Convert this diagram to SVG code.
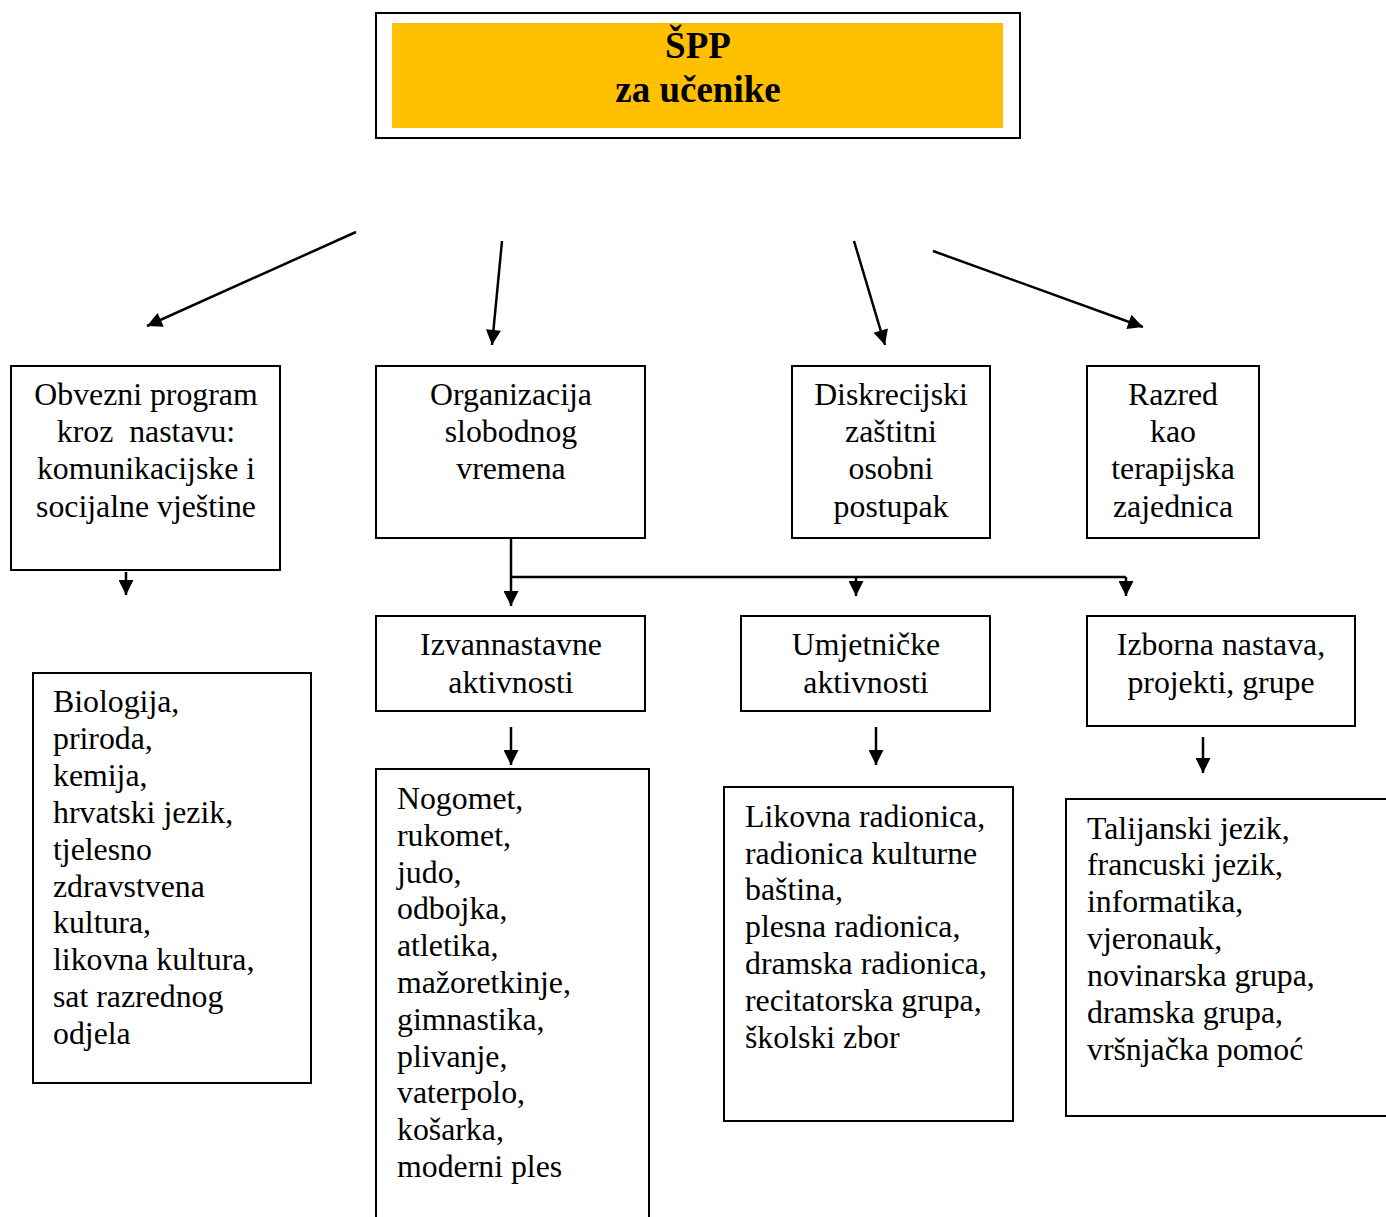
<svg xmlns="http://www.w3.org/2000/svg" width="1386" height="1217" viewBox="0 0 1386 1217">
<style>
.box{fill:#fff;stroke:#000;stroke-width:2}
text{font-family:"Liberation Serif","Times New Roman",serif;font-size:31.8px;fill:#000}
.c{text-anchor:middle}
.t{font-weight:bold;font-size:37px}
.ln{stroke:#000;stroke-width:2.5;fill:none}
</style>
<defs>
<marker id="ah2" viewBox="0 0 10 10" refX="10" refY="5" markerWidth="18" markerHeight="15" markerUnits="userSpaceOnUse" orient="auto">
<path d="M0,0 L10,5 L0,10 z" fill="#000"/>
</marker>
</defs>
<rect width="1386" height="1217" fill="#fff"/>
<g id="top">
<rect class="box" x="376" y="13" width="644" height="125"/>
<rect x="392" y="23" width="611" height="105" fill="#FFC000"/>
<text class="c t" x="698" y="58">ŠPP</text>
<text class="c t" x="698" y="102">za učenike</text>
</g>
<g id="connectors">
<line class="ln" x1="356" y1="232" x2="147" y2="326" marker-end="url(#ah2)"/>
<line class="ln" x1="502" y1="241" x2="492" y2="345" marker-end="url(#ah2)"/>
<line class="ln" x1="854" y1="241" x2="885" y2="345" marker-end="url(#ah2)"/>
<line class="ln" x1="933" y1="251" x2="1143" y2="327" marker-end="url(#ah2)"/>
<line class="ln" x1="126" y1="572" x2="126" y2="595" marker-end="url(#ah2)"/>
<line class="ln" x1="511" y1="531" x2="511" y2="606" marker-end="url(#ah2)"/>
<line class="ln" x1="511" y1="577" x2="1126" y2="577"/>
<line class="ln" x1="856" y1="577" x2="856" y2="596" marker-end="url(#ah2)"/>
<line class="ln" x1="1126" y1="577" x2="1126" y2="596" marker-end="url(#ah2)"/>
<line class="ln" x1="511" y1="727" x2="511" y2="765" marker-end="url(#ah2)"/>
<line class="ln" x1="876" y1="727" x2="876" y2="765" marker-end="url(#ah2)"/>
<line class="ln" x1="1203" y1="737" x2="1203" y2="773" marker-end="url(#ah2)"/>
</g>
<g id="obvezni">
<rect class="box" x="11" y="366" width="269" height="204"/>
<text class="c" x="146" y="405">Obvezni program</text>
<text class="c" x="146" y="442" xml:space="preserve">kroz  nastavu:</text>
<text class="c" x="146" y="479">komunikacijske i</text>
<text class="c" x="146" y="517">socijalne vještine</text>
</g>
<g id="organizacija">
<rect class="box" x="376" y="366" width="269" height="172"/>
<text class="c" x="511" y="405">Organizacija</text>
<text class="c" x="511" y="442">slobodnog</text>
<text class="c" x="511" y="479">vremena</text>
</g>
<g id="diskrecijski">
<rect class="box" x="792" y="366" width="198" height="172"/>
<text class="c" x="891" y="405">Diskrecijski</text>
<text class="c" x="891" y="442">zaštitni</text>
<text class="c" x="891" y="479">osobni</text>
<text class="c" x="891" y="517">postupak</text>
</g>
<g id="razred">
<rect class="box" x="1087" y="366" width="172" height="172"/>
<text class="c" x="1173" y="405">Razred</text>
<text class="c" x="1173" y="442">kao</text>
<text class="c" x="1173" y="479">terapijska</text>
<text class="c" x="1173" y="517">zajednica</text>
</g>
<g id="izvannastavne">
<rect class="box" x="376" y="616" width="269" height="95"/>
<text class="c" x="511" y="655">Izvannastavne</text>
<text class="c" x="511" y="693">aktivnosti</text>
</g>
<g id="umjetnicke">
<rect class="box" x="741" y="616" width="249" height="95"/>
<text class="c" x="866" y="655">Umjetničke</text>
<text class="c" x="866" y="693">aktivnosti</text>
</g>
<g id="izborna">
<rect class="box" x="1087" y="616" width="268" height="110"/>
<text class="c" x="1221" y="655">Izborna nastava,</text>
<text class="c" x="1221" y="693">projekti, grupe</text>
</g>
<g id="biologija">
<rect class="box" x="33" y="673" width="278" height="410"/>
<text x="53" y="712">Biologija,</text>
<text x="53" y="749">priroda,</text>
<text x="53" y="786">kemija,</text>
<text x="53" y="823">hrvatski jezik,</text>
<text x="53" y="860">tjelesno</text>
<text x="53" y="897">zdravstvena</text>
<text x="53" y="933">kultura,</text>
<text x="53" y="970">likovna kultura,</text>
<text x="53" y="1007">sat razrednog</text>
<text x="53" y="1044">odjela</text>
</g>
<g id="nogomet">
<rect class="box" x="376" y="769" width="273" height="470"/>
<text x="397" y="809">Nogomet,</text>
<text x="397" y="846">rukomet,</text>
<text x="397" y="883">judo,</text>
<text x="397" y="919">odbojka,</text>
<text x="397" y="956">atletika,</text>
<text x="397" y="993">mažoretkinje,</text>
<text x="397" y="1030">gimnastika,</text>
<text x="397" y="1067">plivanje,</text>
<text x="397" y="1103">vaterpolo,</text>
<text x="397" y="1140">košarka,</text>
<text x="397" y="1177">moderni ples</text>
</g>
<g id="likovna">
<rect class="box" x="724" y="787" width="289" height="334"/>
<text x="745" y="827">Likovna radionica,</text>
<text x="745" y="864">radionica kulturne</text>
<text x="745" y="900">baština,</text>
<text x="745" y="937">plesna radionica,</text>
<text x="745" y="974">dramska radionica,</text>
<text x="745" y="1011">recitatorska grupa,</text>
<text x="745" y="1048">školski zbor</text>
</g>
<g id="talijanski">
<rect class="box" x="1066" y="799" width="340" height="317"/>
<text x="1087" y="839">Talijanski jezik,</text>
<text x="1087" y="875">francuski jezik,</text>
<text x="1087" y="912">informatika,</text>
<text x="1087" y="949">vjeronauk,</text>
<text x="1087" y="986">novinarska grupa,</text>
<text x="1087" y="1023">dramska grupa,</text>
<text x="1087" y="1060">vršnjačka pomoć</text>
</g>
</svg>
